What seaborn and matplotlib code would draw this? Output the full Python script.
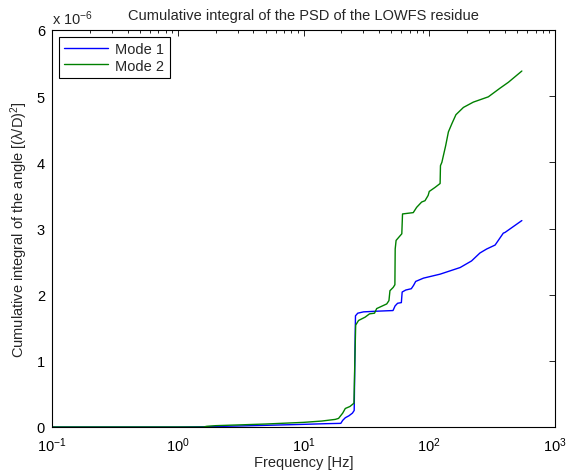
import numpy as np
import pandas as pd
import matplotlib
matplotlib.use("Agg")
import matplotlib.pyplot as plt
import seaborn as sns

# ---- data (values in units of 1e-6 (lambda/D)^2) ----
mode1_freq = [0.1, 1.0, 1.7, 3, 5, 10, 15, 19.8, 20.5, 21.5, 23, 24.5, 25.3, 25.6, 25.9,
              27, 30, 38, 51.5, 53.5, 56, 60, 60.9, 65, 72, 75, 78, 90, 122, 176, 217,
              253, 286, 334, 388, 400, 545]
mode1_val = [0, 0, 0.005, 0.015, 0.025, 0.04, 0.05, 0.055, 0.10, 0.14, 0.17, 0.21, 0.25, 1.0, 1.68,
             1.72, 1.74, 1.75, 1.76, 1.83, 1.87, 1.88, 2.04, 2.07, 2.09, 2.14, 2.20, 2.25, 2.31, 2.41, 2.51,
             2.63, 2.69, 2.75, 2.93, 2.94, 3.12]

mode2_freq = [0.1, 1.6, 1.7, 2, 5, 10, 14, 17.9, 19, 20.5, 21.5, 23.4, 25.2, 25.6, 26.0,
              27.4, 30.9, 33.5, 36.7, 38.2, 45.9, 47.8, 48.7, 51.7, 53.3, 53.6, 54.5, 58, 60.5,
              61.3, 74.6, 79.4, 87, 92.5, 98, 100, 111, 122, 122.8, 126, 129.5, 135, 142, 151,
              163, 187, 224, 295, 365, 426, 545]
mode2_val = [0, 0, 0.01, 0.02, 0.045, 0.07, 0.09, 0.115, 0.13, 0.21, 0.28, 0.31, 0.36, 1.0, 1.54,
             1.61, 1.66, 1.71, 1.72, 1.79, 1.86, 1.91, 2.06, 2.11, 2.15, 2.69, 2.82, 2.88, 2.92,
             3.22, 3.24, 3.32, 3.40, 3.42, 3.50, 3.56, 3.62, 3.68, 3.95, 4.0, 4.10, 4.25, 4.46, 4.58,
             4.72, 4.83, 4.91, 4.99, 5.12, 5.21, 5.38]

series_names = ["Mode 1", "Mode 2"]
series_colors = ["#0000ff", "#008000"]
y_ticks = [0, 1, 2, 3, 4, 5, 6]

df = pd.concat([
    pd.DataFrame({"freq": mode1_freq, "val": mode1_val, "mode": series_names[0]}),
    pd.DataFrame({"freq": mode2_freq, "val": mode2_val, "mode": series_names[1]}),
], ignore_index=True)

sns.set_style("white")
plt.rcParams["font.family"] = ["Liberation Sans", "DejaVu Sans"]
plt.rcParams["mathtext.fontset"] = "custom"
plt.rcParams["mathtext.rm"] = "Liberation Sans"
plt.rcParams["mathtext.it"] = "Liberation Sans:italic"
FS = 10.5
plt.rcParams["font.size"] = FS

fig = plt.figure(figsize=(5.75, 4.77), dpi=100)
ax = fig.add_axes([52 / 575, 1 - 428 / 477, (555 - 52) / 575, (428 - 31) / 477])

sns.lineplot(data=df, x="freq", y="val", hue="mode", palette=series_colors,
             estimator=None, sort=False, linewidth=1.0, ax=ax)

ax.set_xscale("log")
ax.set_xlim(0.1, 1000)
ax.set_ylim(0, 6)
ax.set_yticks(y_ticks)
ax.set_yticklabels([str(t) for t in y_ticks])

for s in ax.spines.values():
    s.set_visible(True)
    s.set_color("black")
    s.set_linewidth(0.8)

ax.tick_params(axis="both", which="both", direction="in", top=True, right=True,
               colors="black", labelsize=FS, width=0.6)
ax.tick_params(axis="both", which="major", length=4)
ax.tick_params(axis="both", which="minor", length=2)
ax.tick_params(axis="x", which="both", pad=6)
ax.tick_params(axis="y", which="both", pad=5)
ax.tick_params(axis="y", which="minor", left=False, right=False)

ax.set_xlabel("Frequency [Hz]", fontsize=FS, labelpad=1)
ax.set_ylabel("Cumulative integral of the angle [(λ/D)$^2$]", fontsize=FS, labelpad=5)
ax.set_title("Cumulative integral of the PSD of the LOWFS residue", fontsize=FS, pad=8)
ax.text(0.0, 1.008, r"x 10$^{-6}$", transform=ax.transAxes, ha="left", va="bottom", fontsize=FS)

leg = ax.legend(loc="upper left", frameon=True, fancybox=False, edgecolor="black",
                handlelength=3.0, borderaxespad=0.5, fontsize=FS, borderpad=0.35,
                labelspacing=0.15, handletextpad=0.5, framealpha=1)
leg.get_frame().set_linewidth(0.8)

fig.savefig("out.png", dpi=100, facecolor="white")
